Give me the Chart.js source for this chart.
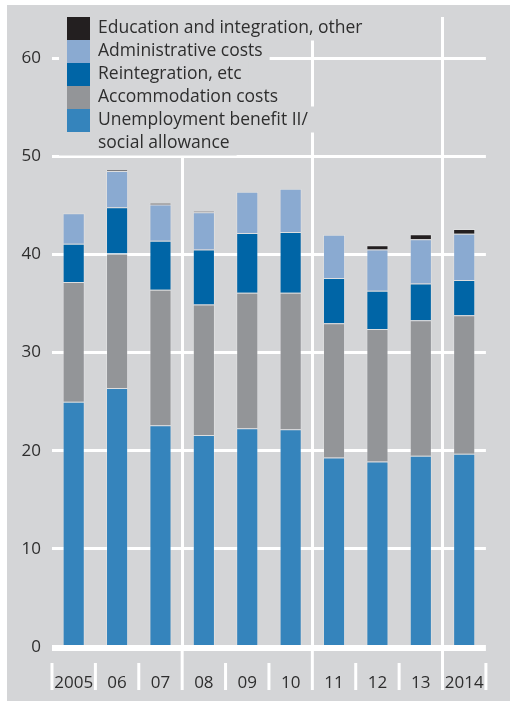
<!DOCTYPE html>
<html lang="en">
<head>
<meta charset="UTF-8" />
<title>Stacked costs 2005-2014</title>
<script src="https://cdn.jsdelivr.net/npm/chart.js@4.4.1/dist/chart.umd.min.js"></script>
<style>
  html, body { margin: 0; padding: 0; background: #fff; }
  canvas { display: block; }
</style>
</head>
<body>
<canvas id="costChart" width="510" height="701"></canvas>
<script>
// values (billions, stacked bottom to top)
const years = ["2005", "06", "07", "08", "09", "10", "11", "12", "13", "2014"];
const benefit = [25.0, 26.4, 22.6, 21.6, 22.3, 22.2, 19.3, 18.9, 19.5, 19.7];
const accommodation = [12.2, 13.7, 13.8, 13.3, 13.8, 13.9, 13.7, 13.5, 13.8, 14.1];
const reintegration = [3.9, 4.7, 5.0, 5.6, 6.1, 6.2, 4.6, 3.9, 3.75, 3.6];
const administrative = [3.1, 3.7, 3.7, 3.8, 4.2, 4.4, 4.4, 4.2, 4.5, 4.7];
const education = [0, 0.13, 0.14, 0.1, 0, 0, 0, 0.45, 0.5, 0.5];
const groupStarts = [3, 6, 9]; // white dividers before 08, 11 and 2014

const BG = "#d4d5d7";
const TEXT = "#2e2e2e";
const FONT = "'Open Sans', 'DejaVu Sans', sans-serif";

// grey panel, zero line and the little dividers under the axis
const frame = {
  id: "frame",
  beforeDraw(chart) {
    const c = chart.ctx;
    c.save();
    c.fillStyle = "#fff";
    c.fillRect(0, 0, chart.width, chart.height);
    c.fillStyle = BG;
    c.fillRect(7, 5, chart.width - 7, chart.height - 5);
    c.restore();
  },
  afterDatasetsDraw(chart) {
    const c = chart.ctx;
    const a = chart.chartArea;
    const x = chart.scales.x;
    const y0 = chart.scales.y.getPixelForValue(0);
    const half = (x.getPixelForValue(1) - x.getPixelForValue(0)) / 2;
    c.save();
    c.strokeStyle = "#fff";
    c.lineWidth = 6;
    c.beginPath();
    c.moveTo(a.left, y0 + 1);
    c.lineTo(a.right, y0 + 1);
    c.stroke();
    c.lineWidth = 3;
    for (let i = 0; i <= years.length; i++) {
      const px = x.getPixelForValue(i) - half;
      const from = groupStarts.includes(i) ? y0 : y0 + 16;
      c.beginPath();
      c.moveTo(px, from);
      c.lineTo(px, chart.height - 11);
      c.stroke();
    }
    c.restore();
  },
};

// legend sitting inside the plot, top left, reversed order
const legendBox = {
  id: "legendBox",
  afterDraw(chart) {
    const c = chart.ctx;
    const sets = chart.data.datasets.slice().reverse();
    const rowH = 23, sq = 23, left = 67, textX = 98, top0 = 17;
    c.save();
    c.font = "17.5px " + FONT;
    c.textBaseline = "middle";
    const rows = [];
    sets.forEach((ds, i) => {
      const top = top0 + i * rowH;
      ds.label.split("\n").forEach((ln, k) => {
        rows.push({ text: ln, cy: top + rowH / 2 + k * rowH });
      });
    });
    c.fillStyle = BG;
    rows.forEach((r) => {
      const w = c.measureText(r.text).width;
      c.fillRect(59, r.cy - 14, textX + w + 7 - 59, 26);
    });
    sets.forEach((ds, i) => {
      c.fillStyle = ds.backgroundColor;
      c.fillRect(left, top0 + i * rowH, sq, rowH);
    });
    c.fillStyle = TEXT;
    rows.forEach((r) => c.fillText(r.text, textX, r.cy));
    c.restore();
  },
};

new Chart(document.getElementById("costChart"), {
  type: "bar",
  data: {
    labels: years,
    datasets: [
      { label: "Unemployment benefit II/\nsocial allowance", data: benefit, backgroundColor: "#3584bc" },
      { label: "Accommodation costs", data: accommodation, backgroundColor: "#939598" },
      { label: "Reintegration, etc", data: reintegration, backgroundColor: "#0065a6" },
      { label: "Administrative costs", data: administrative, backgroundColor: "#8aaad1" },
      { label: "Education and integration, other", data: education, backgroundColor: "#231f20" },
    ],
  },
  options: {
    responsive: false,
    animation: false,
    layout: { padding: { top: 17, right: 7, left: 0, bottom: 0 } },
    plugins: { legend: { display: false }, tooltip: { enabled: false } },
    datasets: {
      bar: {
        categoryPercentage: 1,
        barPercentage: 0.51,
        borderWidth: 1,
        borderColor: "rgba(255,255,255,0.22)",
      },
    },
    scales: {
      x: {
        stacked: true,
        border: { display: false },
        grid: {
          offset: true,
          drawTicks: false,
          lineWidth: 3,
          color: (ctx) => (groupStarts.includes(ctx.index) ? "#fff" : "rgba(0,0,0,0)"),
        },
        ticks: {
          color: TEXT,
          font: { family: FONT, size: 17 },
          padding: 26,
          autoSkip: false,
          maxRotation: 0,
        },
        afterFit: (s) => { s.height = 54; },
      },
      y: {
        stacked: true,
        min: 0,
        max: 64.2,
        border: { display: false },
        grid: {
          drawTicks: false,
          lineWidth: 3,
          color: (ctx) => (ctx.tick && ctx.tick.value === 0 ? "rgba(0,0,0,0)" : "#fff"),
        },
        ticks: {
          stepSize: 10,
          includeBounds: false,
          color: TEXT,
          font: { family: FONT, size: 17 },
          padding: 11,
        },
        afterFit: (s) => {
          s.width = 52;
          s.paddingTop = 0;
          s.paddingBottom = 0;
        },
      },
    },
  },
  plugins: [frame, legendBox],
});
</script>
</body>
</html>
